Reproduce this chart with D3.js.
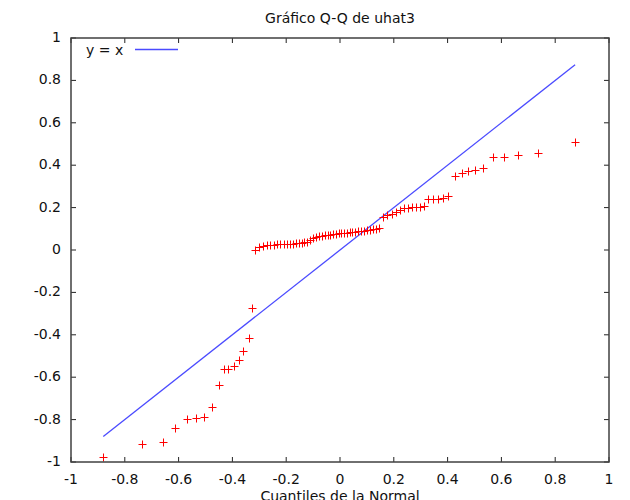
<!DOCTYPE html>
<html>
<head>
<meta charset="utf-8">
<script src="https://cdn.jsdelivr.net/npm/d3@7/dist/d3.min.js"></script>
<style>
body { margin: 0; background: #fff; }
text { font-family: "DejaVu Sans", Verdana, sans-serif; font-size: 14px; fill: #111; }
</style>
</head>
<body>
<div id="chart"></div>
<script>
/************************************ Data *******************************/
var title = "Gráfico Q-Q de uhat3";
var xLabel = "Cuantiles de la Normal";
var xTicks = [-1, -0.8, -0.6, -0.4, -0.2, 0, 0.2, 0.4, 0.6, 0.8, 1];
var yTicks = [-1, -0.8, -0.6, -0.4, -0.2, 0, 0.2, 0.4, 0.6, 0.8, 1];

// normal quantiles (x) and sorted residuals (y)
var qx = [-0.880, -0.737, -0.659, -0.612, -0.570, -0.535, -0.506, -0.475, -0.451, -0.432,
	-0.415, -0.395, -0.374, -0.362, -0.339, -0.327,
	-0.316, -0.300, -0.286, -0.272, -0.259, -0.246, -0.234, -0.222, -0.210, -0.198,
	-0.187, -0.176, -0.165, -0.154, -0.143, -0.132, -0.121, -0.110, -0.099, -0.088,
	-0.078, -0.067, -0.057, -0.046, -0.036, -0.025, -0.015, -0.005, 0.005, 0.015,
	0.026, 0.036, 0.046, 0.057, 0.067, 0.078, 0.088, 0.099, 0.110, 0.121,
	0.132, 0.145, 0.161, 0.176, 0.192, 0.208, 0.223, 0.238, 0.253, 0.268,
	0.283, 0.298, 0.313, 0.328, 0.346, 0.364, 0.383, 0.403, 0.428, 0.452,
	0.477, 0.502, 0.530, 0.570, 0.610, 0.663, 0.735, 0.874];
var qy = [-0.976, -0.917, -0.907, -0.841, -0.797, -0.791, -0.786, -0.741, -0.637, -0.563,
	-0.563, -0.547, -0.520, -0.476, -0.417, -0.272,
	0.000, 0.014, 0.018, 0.022, 0.024, 0.025, 0.026, 0.027, 0.028, 0.028,
	0.029, 0.030, 0.031, 0.032, 0.034, 0.036, 0.040, 0.046, 0.055, 0.062,
	0.065, 0.067, 0.069, 0.071, 0.072, 0.074, 0.076, 0.078, 0.080, 0.081,
	0.082, 0.084, 0.085, 0.086, 0.088, 0.089, 0.091, 0.093, 0.095, 0.097,
	0.099, 0.105, 0.157, 0.163, 0.170, 0.179, 0.189, 0.197, 0.200, 0.203,
	0.204, 0.204, 0.206, 0.240, 0.240, 0.241, 0.247, 0.255, 0.349, 0.365,
	0.374, 0.377, 0.385, 0.440, 0.440, 0.447, 0.456, 0.508];
var refLine = [-0.88, 0.874];

/************************************ Chart *******************************/
var W = 630, H = 500;
var L = 71, R = 609, T = 38, B = 462;

var svg = d3.select("#chart").append("svg")
	.attr("width", W).attr("height", H);

var x = d3.scaleLinear().domain([-1, 1]).range([L, R]);
var y = d3.scaleLinear().domain([-1, 1]).range([B, T]);

svg.append("text").attr("x", 340).attr("y", 23)
	.attr("text-anchor", "middle").text(title);

// inward ticks on all sides
var tk = 5;
var tickG = svg.append("g").attr("stroke", "#222").attr("stroke-width", 1);
xTicks.forEach(function(v){
	tickG.append("line").attr("x1", x(v)).attr("x2", x(v)).attr("y1", B).attr("y2", B - tk);
	tickG.append("line").attr("x1", x(v)).attr("x2", x(v)).attr("y1", T).attr("y2", T + tk);
});
yTicks.forEach(function(v){
	tickG.append("line").attr("x1", L).attr("x2", L + tk).attr("y1", y(v)).attr("y2", y(v));
	tickG.append("line").attr("x1", R).attr("x2", R - tk).attr("y1", y(v)).attr("y2", y(v));
});

svg.selectAll("text.xt").data(xTicks).enter().append("text")
	.attr("class", "xt")
	.attr("x", function(d){ return x(d); })
	.attr("y", B + 22)
	.attr("text-anchor", "middle")
	.text(function(d){ return d; });

svg.selectAll("text.yt").data(yTicks).enter().append("text")
	.attr("class", "yt")
	.attr("x", L - 10)
	.attr("y", function(d){ return y(d) + 4; })
	.attr("text-anchor", "end")
	.text(function(d){ return d; });

svg.append("text").attr("x", 340).attr("y", 501)
	.attr("text-anchor", "middle").text(xLabel);

// reference line y = x
svg.append("line")
	.attr("x1", x(refLine[0])).attr("y1", y(refLine[0]))
	.attr("x2", x(refLine[1])).attr("y2", y(refLine[1]))
	.attr("stroke", "#4a4aff").attr("stroke-width", 1.3);

// points as "+"
var pts = svg.append("g").attr("stroke", "#ff0000").attr("stroke-width", 1);
d3.range(qx.length).forEach(function(i){
	var cx = Math.round(x(qx[i])) + 0.5, cy = Math.round(y(qy[i])) + 0.5;
	pts.append("line").attr("x1", cx - 4).attr("x2", cx + 4).attr("y1", cy).attr("y2", cy);
	pts.append("line").attr("x1", cx).attr("x2", cx).attr("y1", cy - 4).attr("y2", cy + 4);
});

// legend
svg.append("text").attr("x", 86).attr("y", 55).text("y = x");
svg.append("line").attr("x1", 135).attr("x2", 178).attr("y1", 49.5).attr("y2", 49.5)
	.attr("stroke", "#4a4aff").attr("stroke-width", 1.3);

// frame
svg.append("rect").attr("x", L).attr("y", T).attr("width", R - L).attr("height", B - T)
	.attr("fill", "none").attr("stroke", "#404040").attr("stroke-width", 1.5);
</script>
</body>
</html>
